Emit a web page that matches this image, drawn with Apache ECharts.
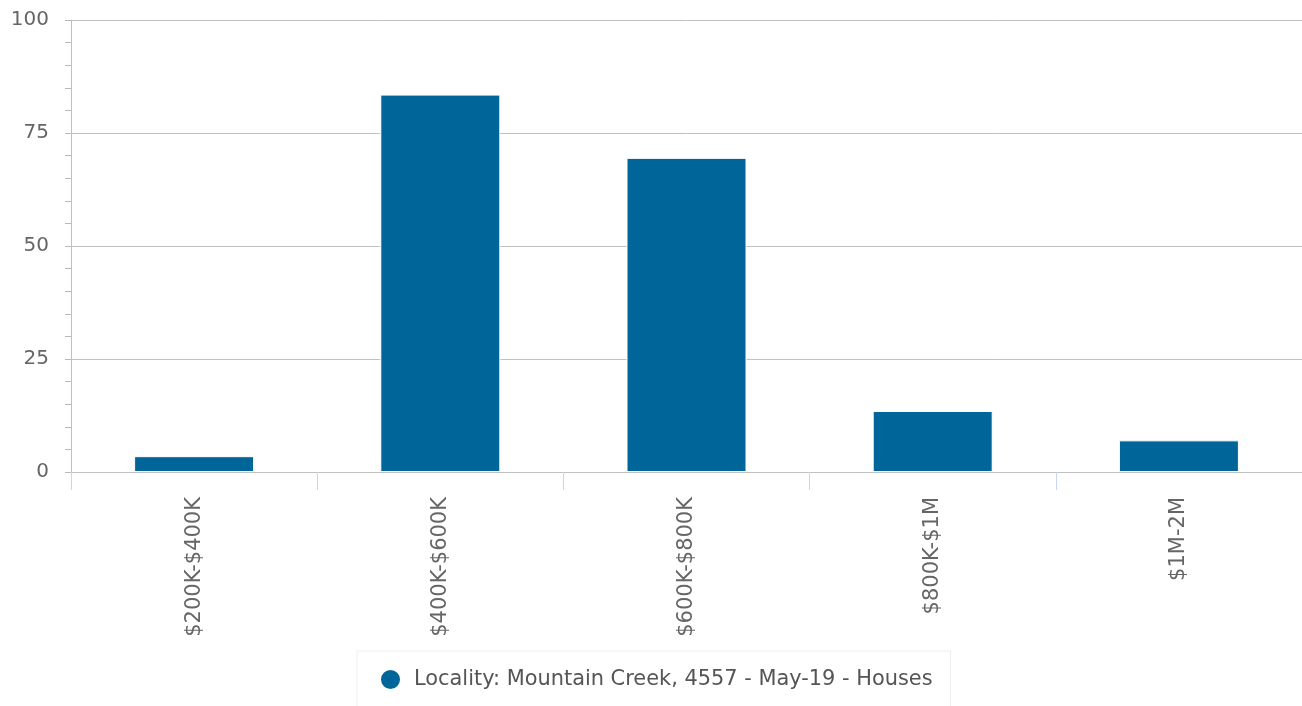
<!DOCTYPE html>
<html>
<head>
<meta charset="utf-8">
<script src="https://cdn.jsdelivr.net/npm/echarts@6/dist/echarts.min.js"></script>
<style>
  html, body { margin: 0; padding: 0; background: #fff; }
  #chart { width: 1302px; height: 706px; }
</style>
</head>
<body>
<div id="chart"></div>
<script>
// price brackets and number of sales
const categories = ['$200K-$400K', '$400K-$600K', '$600K-$800K', '$800K-$1M', '$1M-2M'];
const sales = [3.5, 83.5, 69.5, 13.5, 7];
const seriesName = 'Locality: Mountain Creek, 4557 - May-19 - Houses';

const font = 'DejaVu Sans';
const myChart = echarts.init(document.getElementById('chart'));

const option = {
  animation: false,
  grid: { left: 71, right: 0, top: 20, bottom: 234, containLabel: false },
  legend: {
    left: 357,
    top: 651,
    padding: [17, 18, 17, 22],
    borderColor: '#eeeeee',
    borderWidth: 1,
    icon: 'circle',
    itemWidth: 21,
    itemHeight: 21,
    itemGap: 10,
    textStyle: { color: '#555', fontSize: 20.9, fontFamily: font, padding: [0, 0, 0, 8] },
    data: [seriesName]
  },
  xAxis: {
    type: 'category',
    data: categories,
    axisLine: { lineStyle: { color: '#c0c0c0', width: 1 } },
    axisTick: { show: true, length: 18, alignWithLabel: false, lineStyle: { color: '#ccd6eb' } },
    axisLabel: { rotate: 90, margin: 25, color: '#666', fontSize: 21, fontFamily: font }
  },
  yAxis: {
    type: 'value',
    min: 0,
    max: 100,
    interval: 25,
    axisLine: { show: true, lineStyle: { color: '#c0c0c0' } },
    axisTick: { show: true, length: 6, lineStyle: { color: '#b8b8b8' } },
    minorTick: { show: true, splitNumber: 5, length: 6, lineStyle: { color: '#b8b8b8' } },
    splitLine: { lineStyle: { color: '#c0c0c0', width: 1 } },
    axisLabel: { margin: 22, color: '#666', fontSize: 20, fontFamily: font }
  },
  series: [
    {
      name: seriesName,
      type: 'bar',
      data: sales,
      barWidth: 120,
      itemStyle: { color: '#006699', borderColor: '#ffffff', borderWidth: 1 }
    }
  ]
};
myChart.setOption(option);
</script>
</body>
</html>
